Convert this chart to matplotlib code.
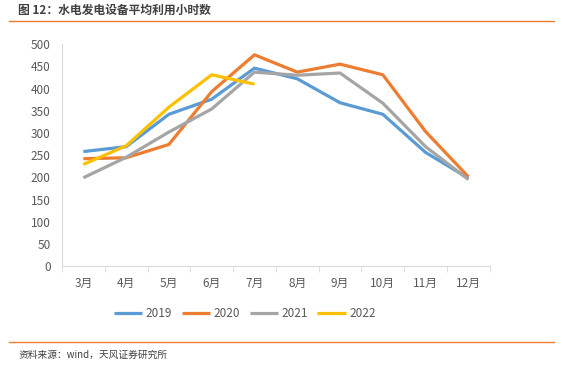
import matplotlib
matplotlib.use("Agg")
import matplotlib.pyplot as plt
import numpy as np

plt.rcParams['font.family'] = ['Noto Sans CJK SC', 'DejaVu Sans']

months = ['3月', '4月', '5月', '6月', '7月', '8月', '9月', '10月', '11月', '12月']
y2019 = [258, 269, 342, 376, 446, 422, 368, 342, 256, 198]
y2020 = [242, 244, 274, 393, 476, 437, 455, 431, 303, 201]
y2021 = [199, 245, 302, 354, 437, 430, 435, 367, 269, 195]
y2022 = [229, 271, 358, 431, 410]

series = [('2019', y2019, '#5B9BD5'), ('2020', y2020, '#ED7D31'),
          ('2021', y2021, '#A5A5A5'), ('2022', y2022, '#FFC000')]

fig = plt.figure(figsize=(5.63, 3.65), dpi=100)
ax = fig.add_axes([0.110, 0.271, 0.760, 0.608])

x = np.arange(len(months))
for name, vals, col in series:
    ax.plot(x[:len(vals)], vals, color=col, lw=2.3, label=name, solid_capstyle='butt')

ax.set_xlim(-0.5, len(months) - 0.5)
ax.set_ylim(0, 500)
ax.set_yticks(np.arange(0, 501, 50))
ax.set_xticks(x)
ax.set_xticklabels(months)
ax.set_xticks(np.arange(-0.5, len(months), 1), minor=True)
ax.tick_params(axis='x', which='major', length=0, pad=8, labelsize=8.5, labelcolor='#595959')
ax.tick_params(axis='x', which='minor', length=4, color='#D9D9D9', direction='out')
ax.tick_params(axis='y', length=0, pad=8, labelsize=8.5, labelcolor='#595959')
for s in ['top', 'right']:
    ax.spines[s].set_visible(False)
ax.spines['left'].set_color('#D9D9D9')
ax.spines['bottom'].set_color('#D9D9D9')

fig.legend(loc='center', bbox_to_anchor=(0.435, 0.142), ncol=4, frameon=False,
           fontsize=8.5, handlelength=2.4, columnspacing=0.8, handletextpad=0.3,
           labelcolor='#595959')

fig.text(0.032, 0.972, '图 12：水电发电设备平均利用小时数', fontsize=8.5, fontweight='bold',
         color='#404040', va='center', ha='left')
fig.add_artist(plt.Line2D([0.016, 0.984], [0.943, 0.943], color='#ED7D31', lw=1))
fig.add_artist(plt.Line2D([0.016, 0.984], [0.062, 0.062], color='#ED7D31', lw=1))
fig.text(0.032, 0.027, '资料来源：wind，天风证券研究所', fontsize=7, color='#404040',
         va='center', ha='left')

fig.savefig('out.png', dpi=100)
